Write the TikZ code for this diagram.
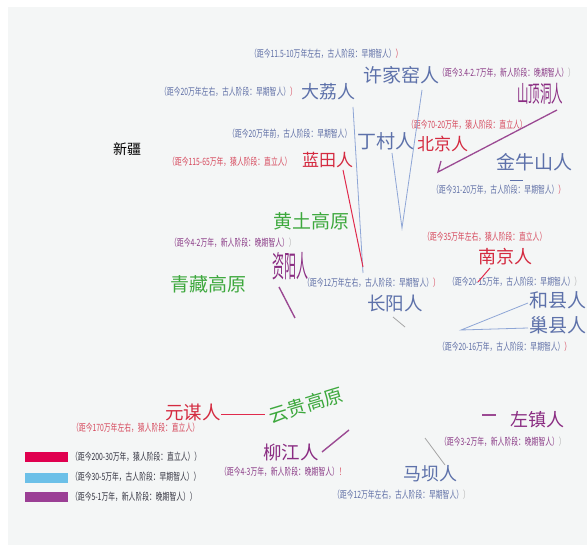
\documentclass[tikz,border=0pt]{standalone}
\usepackage{fontspec}
\usepackage{graphicx}
\setmainfont{Noto Sans CJK SC}
\definecolor{panel}{HTML}{F4F6F6}
\definecolor{gblue}{HTML}{5D71AA}
\definecolor{redc}{HTML}{D42A40}
\definecolor{purp}{HTML}{8A2C82}
\definecolor{grn}{HTML}{3DA83D}
\definecolor{annred}{HTML}{D6485C}
\definecolor{annblue}{HTML}{5F6FA6}
\definecolor{annpurp}{HTML}{8A3A86}
\definecolor{lblue}{HTML}{8EA6D6}
\definecolor{lred}{HTML}{E02A4C}
\definecolor{lpurp}{HTML}{9B4A93}
\definecolor{legred}{HTML}{E0004F}
\definecolor{legblue}{HTML}{6CC0E8}
\definecolor{legpurp}{HTML}{9B3F95}
\definecolor{legtxt}{HTML}{333340}
\newcommand\annt[1]{\scalebox{0.68}[1]{\fontsize{10}{10}\selectfont #1}}
\newcommand\bigt[2]{\fontsize{#1}{#1}\selectfont #2}
\newcommand\narrowt[3]{\scalebox{#1}[1]{\fontsize{#2}{#2}\selectfont #3}}
\tikzset{
  lab/.style={inner sep=0pt, anchor=west},
  ann/.style={inner sep=0pt, anchor=west},
  blueline/.style={draw=lblue, line width=0.8pt},
  redline/.style={draw=lred, line width=1pt},
  purpline/.style={draw=lpurp, line width=1.4pt},
  legbar/.style={inner sep=0pt, minimum width=43pt, minimum height=10.5pt, anchor=west}
}
\begin{document}
\begin{tikzpicture}[x=1pt,y=-1pt]
\useasboundingbox (0,0) rectangle (587,545);
\fill[white] (0,0) rectangle (587,545);
\fill[panel] (8,7) rectangle (587,545);

% ---- big labels ----
\node[lab, text=gblue] (xjy) at (363,75) {\bigt{19}{许家窑人}};
\node[lab, text=gblue] (dl) at (301,92) {\bigt{18}{大荔人}};
\node[lab, text=purp] (sdd) at (517,94) {\narrowt{0.5}{23}{山顶洞人}};
\node[lab, text=gblue] (dc) at (357,141) {\bigt{19}{丁村人}};
\node[lab, text=redc] (bj) at (417,144) {\bigt{17}{北京人}};
\node[lab, text=gblue] (jns) at (496,162) {\bigt{19}{金牛山人}};
\node[lab, text=redc] (lt) at (302,160) {\bigt{17}{蓝田人}};
\node[lab, text=black] (xj) at (113,149) {\bigt{14}{新疆}};
\node[lab, text=grn] (hgt) at (273,221) {\bigt{19}{黄土高原}};
\node[lab, text=purp] (zy) at (272,266) {\narrowt{0.4}{30}{资阳人}};
\node[lab, text=grn] (qz) at (170,284) {\bigt{19}{青藏高原}};
\node[lab, text=redc] (nj) at (478,257) {\bigt{18}{南京人}};
\node[lab, text=gblue] (cy) at (367,303) {\bigt{18.5}{长阳人}};
\node[lab, text=gblue] (hx) at (529,300) {\bigt{19}{和县人}};
\node[lab, text=gblue] (cx) at (529,325) {\bigt{19}{巢县人}};
\node[lab, text=redc] (ym) at (165,412) {\bigt{18.5}{元谋人}};
\node[text=grn, inner sep=0pt, rotate=17] (yg) at (306,405) {\bigt{19}{云贵高原}};
\node[lab, text=purp] (lj) at (263,452) {\bigt{18.5}{柳江人}};
\node[lab, text=purp] (zz) at (510,420) {\bigt{18}{左镇人}};
\node[lab, text=gblue] (mb) at (403,474) {\bigt{18}{马坝人}};

% ---- annotations ----
\node[ann, text=annblue] (a1) at (250,54) {\annt{（距今11.5-10万年左右，古人阶段：早期智人）\textcolor{annred}{）}}};
\node[ann, text=annblue] (a2) at (160,92) {\annt{（距今20万年左右，古人阶段：早期智人）\textcolor{annred}{）}}};
\node[ann, text=annpurp] (a3) at (438,73) {\annt{（距今3.4-2.7万年，新人阶段：晚期智人）\textcolor{gray!60}{）}}};
\node[ann, text=annred] (a4) at (407,125) {\annt{（距今70-20万年，猿人阶段：直立人）}};
\node[ann, text=annblue] (a5) at (228,134) {\annt{（距今20万年前，古人阶段：早期智人）}};
\node[ann, text=annred] (a6) at (168,162) {\annt{（距今115-65万年，猿人阶段：直立人）}};
\node[ann, text=annblue] (a7) at (432,190) {\annt{（距今31-20万年，古人阶段：早期智人）\textcolor{annred}{）}}};
\node[ann, text=annpurp] (a8) at (170,243) {\annt{（距今4-2万年，新人阶段：晚期智人）\textcolor{gray!60}{）}}};
\node[ann, text=annred] (a9) at (423,237) {\annt{（距今35万年左右，猿人阶段：直立人）}};
\node[ann, text=annblue] (a10) at (303,283) {\annt{（距今12万年左右，古人阶段：早期智人）\textcolor{annred}{）}}};
\node[ann, text=annblue] (a11) at (448,282) {\annt{（距今20-15万年，古人阶段：早期智人）\textcolor{gray!60}{）}}};
\node[ann, text=annblue] (a12) at (438,347) {\annt{（距今20-16万年，古人阶段：早期智人）\textcolor{annred}{）}}};
\node[ann, text=annred] (a13) at (72,428) {\annt{（距今170万年左右，猿人阶段：直立人）}};
\node[ann, text=annpurp] (a14) at (220,472) {\annt{（距今4-3万年，新人阶段：晚期智人）\textcolor{annred}{！}}};
\node[ann, text=annpurp] (a15) at (440,442) {\annt{（距今3-2万年，新人阶段：晚期智人）\textcolor{gray!60}{）}}};
\node[ann, text=annblue] (a16) at (333,495) {\annt{（距今12万年左右，古人阶段：早期智人）\textcolor{gray!60}{）}}};

% ---- legend ----
\node[legbar, fill=legred] (lb1) at (25,457) {};
\node[legbar, fill=legblue] (lb2) at (25,478) {};
\node[legbar, fill=legpurp] (lb3) at (25,497) {};
\node[ann, text=legtxt] (lt1) at (71,457) {\annt{（距今200-30万年，猿人阶段：直立人））}};
\node[ann, text=legtxt] (lt2) at (71,477) {\annt{（距今30-5万年，古人阶段：早期智人））}};
\node[ann, text=legtxt] (lt3) at (71,497) {\annt{（距今5-1万年，新人阶段：晚期智人））}};

% ---- connector end points ----
\coordinate (dlA) at (353,107);
\coordinate (dlB) at (363,273);
\coordinate (xjyA) at (422,90);
\coordinate (vtip) at (402,228);
\coordinate (dcA) at (392,153);
\coordinate (ltA) at (343,170);
\coordinate (ltB) at (363,267);
\coordinate (cyA) at (393,317);
\coordinate (cyB) at (405,327);
\coordinate (zyA) at (279,287);
\coordinate (zyB) at (295,318);
\coordinate (sddA) at (557,110);
\coordinate (bjA) at (438,172);
\coordinate (bjB) at (441,161);
\coordinate (jnsA) at (510,180);
\coordinate (jnsB) at (523,180);
\coordinate (njA) at (490,268);
\coordinate (njB) at (478,282);
\coordinate (hcTip) at (461,330);
\coordinate (hxA) at (528,303);
\coordinate (cxA) at (528,328);
\coordinate (ymA) at (221,415);
\coordinate (ygA) at (265,415);
\coordinate (ljA) at (322,452);
\coordinate (ljB) at (349,430);
\coordinate (mbA) at (425,438);
\coordinate (mbB) at (445,465);
\coordinate (zzA) at (482,415);
\coordinate (zzB) at (496,415);

% ---- connectors ----
\draw[blueline] (dlA) -- (dlB);
\draw[blueline] (xjyA) -- (vtip) -- (dcA);
\draw[redline] (ltA) -- (ltB);
\draw[blueline, draw=gray!70] (cyA) -- (cyB);
\draw[purpline] (zyA) -- (zyB);
\draw[lpurp, line width=1.3pt] (sddA) -- (bjA) -- (bjB);
\draw[blueline, draw=gblue] (jnsA) -- (jnsB);
\draw[redline] (njA) -- (njB);
\draw[blueline] (hxA) -- (hcTip) -- (cxA);
\draw[redline] (ymA) -- (ygA);
\draw[purpline] (ljA) -- (ljB);
\draw[blueline, draw=gray!70] (mbA) -- (mbB);
\draw[purpline, line width=1.2pt] (zzA) -- (zzB);
\end{tikzpicture}
\end{document}
